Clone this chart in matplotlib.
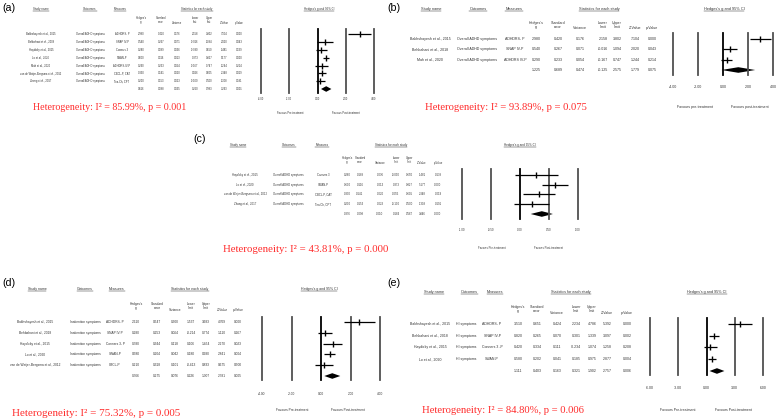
import matplotlib
matplotlib.use('Agg')
import matplotlib.pyplot as plt
from matplotlib.lines import Line2D

W, H = 779, 419

# ------------------------------------------------------------------ data
col_heads = ["Hedges's\ng", "Standard\nerror", "Variance", "Lower\nlimit",
             "Upper\nlimit", "Z-Value", "p-Value"]

# (a) overall ADHD symptoms, all studies
a_studies = ["Bakhshayesh et al., 2015", "Behbahani et al., 2018", "Haydicky et al., 2015",
             "Lo et al., 2020", "Mah et al., 2020", "van de Weijer-Bergsma et al., 2012",
             "Zhang et al., 2017"]
a_outcomes = ["Overall ADHD symptoms"] * 7
a_measures = ["ADHDRS- P", "SNAP IV-P", "Conners 3", "SWAN-P", "ADHDRS-IV-P",
              "CBCL-P, CAT", "Tea-Ch, CPT"]
a_g = [2.980, 0.540, 0.280, 0.600, 0.290, 0.330, 0.200]
a_se = [0.420, 0.267, 0.189, 0.116, 0.233, 0.141, 0.153]
a_var = [0.176, 0.071, 0.036, 0.013, 0.054, 0.020, 0.023]
a_lo = [2.158, -0.016, -0.090, 0.373, -0.167, 0.056, -0.100]
a_hi = [3.802, 1.094, 0.650, 0.827, 0.747, 0.605, 0.500]
a_z = [7.104, 2.020, 1.481, 5.177, 1.244, 2.348, 1.308]
a_p = [0.000, 0.043, 0.139, 0.000, 0.214, 0.019, 0.191]
a_sum = [0.616, 0.188, 0.035, 0.250, 0.983, 3.293, 0.001]
a_het = "Heterogeneity: I\u00b2 = 85.99%, p = 0.001"
a_ticks = [-4, -2, 0, 2, 4]

# (b)
b_studies = ["Bakhshayesh et al., 2015", "Behbahani et al., 2018", "Mah et al., 2020"]
b_outcomes = ["Overall ADHD symptoms"] * 3
b_measures = ["ADHDRS- P", "SNAP IV-P", "ADHDRS IV-P"]
b_g = [2.980, 0.540, 0.290]
b_se = [0.420, 0.267, 0.233]
b_var = [0.176, 0.071, 0.054]
b_lo = [2.158, -0.016, -0.167]
b_hi = [3.802, 1.094, 0.747]
b_z = [7.104, 2.020, 1.244]
b_p = [0.000, 0.043, 0.214]
b_sum = [1.225, 0.689, 0.474, -0.125, 2.575, 1.779, 0.075]
b_het = "Heterogeneity: I\u00b2 = 93.89%, p = 0.075"
b_ticks = [-4, -2, 0, 2, 4]

# (c)
c_studies = ["Haydicky et al., 2015", "Lo et al., 2020",
             "van de Weijer-Bergsma et al., 2012", "Zhang et al., 2017"]
c_outcomes = ["Overall ADHD symptoms"] * 4
c_measures = ["Conners 3", "SWAN-P", "CBCL-P, CAT", "Tea-Ch, CPT"]
c_g = [0.280, 0.600, 0.330, 0.200]
c_se = [0.189, 0.116, 0.141, 0.153]
c_var = [0.036, 0.013, 0.020, 0.023]
c_lo = [-0.090, 0.373, 0.055, -0.100]
c_hi = [0.650, 0.827, 0.605, 0.500]
c_z = [1.481, 5.177, 2.348, 1.308]
c_p = [0.139, 0.000, 0.019, 0.191]
c_sum = [0.376, 0.098, 0.010, 0.184, 0.567, 3.846, 0.000]
c_het = "Heterogeneity: I\u00b2 = 43.81%, p = 0.000"
c_ticks = [-1.0, -0.5, 0.0, 0.5, 1.0]

# (d) inattention
d_studies = ["Bakhshayesh et al., 2015", "Behbahani et al., 2018", "Haydicky et al., 2015",
             "Lo et al., 2020", "van de Weijer-Bergsma et al., 2012"]
d_outcomes = ["Inattention symptoms"] * 5
d_measures = ["ADHDRS- P", "SNAP IV-P", "Conners 3- P", "SWAN-P", "CBCL-P"]
d_g = [2.610, 0.280, 0.780, 0.580, 0.210]
d_se = [0.547, 0.253, 0.344, 0.204, 0.318]
d_var = [0.300, 0.064, 0.118, 0.042, 0.101]
d_lo = [1.537, -0.214, 0.106, 0.180, -0.413]
d_hi = [3.683, 0.774, 1.454, 0.980, 0.833]
d_z = [4.769, 1.110, 2.270, 2.841, 0.675]
d_p = [0.000, 0.267, 0.023, 0.004, 0.500]
d_sum = [0.766, 0.275, 0.076, 0.226, 1.307, 2.781, 0.005]
d_het = "Heterogeneity: I\u00b2 = 75.32%, p = 0.005"
d_ticks = [-4, -2, 0, 2, 4]

# (e) HI symptoms
e_studies = ["Bakhshayesh et al., 2015", "Behbahani et al., 2018",
             "Haydicky et al., 2015", "Lo et al., 2020"]
e_outcomes = ["HI symptoms"] * 4
e_measures = ["ADHDRS- P", "SNAP IV-P", "Conners 3 -P", "SWAN-P"]
e_g = [3.510, 0.820, 0.420, 0.580]
e_se = [0.651, 0.265, 0.334, 0.202]
e_var = [0.424, 0.070, 0.111, 0.041]
e_lo = [2.234, 0.301, -0.234, 0.185]
e_hi = [4.786, 1.339, 1.074, 0.975]
e_z = [5.392, 3.097, 1.258, 2.877]
e_p = [0.000, 0.002, 0.208, 0.004]
e_sum = [1.111, 0.403, 0.163, 0.321, 1.902, 2.757, 0.006]
e_het = "Heterogeneity: I\u00b2 = 84.80%, p = 0.006"
e_ticks = [-6, -3, 0, 3, 6]

# ------------------------------------------------------------------ layout (pixels)
panels = [
    dict(label="(a)", lab=(2, 8), hy=9, hx=[41, 90, 120, 197, 319],
         ch_y=(17, 23), cx=[141, 161, 177, 195, 209, 224, 239],
         row0=34, step=7.9, sum_y=89, nx=41, ox=90, mx=122, fs=1.9,
         fx=(261, 374), fy=(29, 93), tick_y=98, fav_y=113, fav_x=(290, 346),
         fav=("Favours Pre-treatment", "Favours Post-treatment"),
         het=(33, 108), het_w=153, ticks=a_ticks,
         d=(a_studies, a_outcomes, a_measures, a_g, a_se, a_var, a_lo, a_hi, a_z, a_p, a_sum, a_het)),
    dict(label="(b)", lab=(387, 8), hy=9, hx=[431, 478, 514, 599, 724],
         ch_y=(22, 28), cx=[536, 558, 580, 603, 617, 635, 652],
         row0=39, step=10.4, sum_y=70, nx=430, ox=477, mx=515, fs=2.6,
         fx=(673, 773), fy=(33, 75), tick_y=86, fav_y=107, fav_x=(695, 750),
         fav=("Favours pre-treatment", "Favours post-treatment"),
         het=(425, 108), het_w=162, ticks=b_ticks,
         d=(b_studies, b_outcomes, b_measures, b_g, b_se, b_var, b_lo, b_hi, b_z, b_p, b_sum, b_het)),
    dict(label="(c)", lab=(193, 139), hy=145, hx=[238, 289, 322, 391, 520],
         ch_y=(157, 163), cx=[347, 360, 380, 396, 409, 422, 438],
         row0=175, step=9.7, sum_y=214, nx=245, ox=288, mx=323, fs=1.95,
         fx=(462, 578), fy=(169, 219), tick_y=229, fav_y=248, fav_x=(492, 549),
         fav=("Favours Pre-treatment", "Favours Post-treatment"),
         het=(223, 249), het_w=164, ticks=c_ticks,
         d=(c_studies, c_outcomes, c_measures, c_g, c_se, c_var, c_lo, c_hi, c_z, c_p, c_sum, c_het)),
    dict(label="(d)", lab=(2, 283), hy=289, hx=[37, 85, 117, 190, 319],
         ch_y=(302, 310), cx=[136, 157, 175, 191, 206, 222, 238],
         row0=322, step=10.8, sum_y=376, nx=35, ox=85, mx=115, fs=2.3,
         fx=(262, 380), fy=(317, 380), tick_y=393, fav_y=410, fav_x=(292, 348),
         fav=("Favours Pre-treatment", "Favours Post-treatment"),
         het=(12, 413), het_w=168, ticks=d_ticks,
         d=(d_studies, d_outcomes, d_measures, d_g, d_se, d_var, d_lo, d_hi, d_z, d_p, d_sum, d_het)),
    dict(label="(e)", lab=(387, 283), hy=292, hx=[434, 469, 495, 571, 707],
         ch_y=(305, 313), cx=[518, 537, 557, 576, 592, 607, 627],
         row0=324, step=11.7, sum_y=371, nx=430, ox=466, mx=492, fs=2.5,
         fx=(650, 763), fy=(318, 375), tick_y=387, fav_y=410, fav_x=(678, 733),
         fav=("Favours Pre-treatment", "Favours Post-treatment"),
         het=(422, 410), het_w=163, ticks=e_ticks,
         d=(e_studies, e_outcomes, e_measures, e_g, e_se, e_var, e_lo, e_hi, e_z, e_p, e_sum, e_het)),
]

SANS = ['Liberation Sans Narrow', 'Liberation Sans', 'DejaVu Sans']
SERIF = ['Liberation Serif', 'DejaVu Serif']
TXT = '#333333'

fig = plt.figure(figsize=(W / 100, H / 100), dpi=100)
fig.patch.set_facecolor('white')
renderer = fig.canvas.get_renderer()


def ftext(x, y, s, **kw):
    kw.setdefault('family', SANS)
    kw.setdefault('color', TXT)
    return fig.text(x / W, 1 - y / H, s, **kw)


underlined = []
for P in panels:
    studies, outcomes, measures, g, se, var, lo, hi, z, p, sm, het = P['d']
    fs = P['fs']
    ftext(P['lab'][0], P['lab'][1], P['label'], fontsize=7.7, color='black',
          family=['Liberation Sans', 'DejaVu Sans'], ha='left', va='center')
    for x, s in zip(P['hx'], ["Study name", "Outcomes", "Measures",
                              "Statistics for each study", "Hedges's g and 95% CI"]):
        t = ftext(x, P['hy'], s, fontsize=fs + 0.2, ha='center', va='center')
        underlined.append(t)
    y1, y2 = P['ch_y']
    for x, s in zip(P['cx'], col_heads):
        if '\n' in s:
            ftext(x, (y1 + y2) / 2, s, fontsize=fs, ha='center', va='center', linespacing=1.3)
        else:
            ftext(x, y2, s, fontsize=fs, ha='center', va='center')
    rows = [P['row0'] + i * P['step'] for i in range(len(studies))]
    for i, y in enumerate(rows):
        ftext(P['nx'], y, studies[i], fontsize=fs, ha='center', va='center')
        ftext(P['ox'], y, outcomes[i], fontsize=fs, ha='center', va='center')
        ftext(P['mx'], y, measures[i], fontsize=fs, ha='center', va='center')
        vals = [g[i], se[i], var[i], lo[i], hi[i], z[i], p[i]]
        for x, v in zip(P['cx'], vals):
            ftext(x, y, f"{v:.3f}", fontsize=fs, ha='center', va='center')
    for x, v in zip(P['cx'], sm):
        ftext(x, P['sum_y'], f"{v:.3f}", fontsize=fs, ha='center', va='center')

    # heterogeneity annotation, sized to the reference width
    ht = ftext(P['het'][0], P['het'][1], het, fontsize=10, color='#ff2b2b',
               family=SERIF, ha='left', va='center')
    wpx = ht.get_window_extent(renderer).width
    ht.set_fontsize(10 * P['het_w'] / wpx)

    # forest plot axes
    xl, xr = P['fx']
    yt, yb = P['fy']
    ax = fig.add_axes([xl / W, 1 - yb / H, (xr - xl) / W, (yb - yt) / H])
    ticks = P['ticks']
    ax.set_xlim(ticks[0], ticks[-1])
    ax.set_ylim(yb, yt)
    for s in ax.spines.values():
        s.set_visible(False)
    ax.set_yticks([])
    ax.set_xticks(ticks)
    ax.set_xticklabels([f"{t:.2f}" for t in ticks], family=SANS, fontsize=fs, color=TXT)
    ax.tick_params(axis='x', length=0, pad=(P['tick_y'] - yb - 1.5) * 0.72)
    ax.patch.set_alpha(0)
    for t in ticks:
        ax.axvline(t, color='black' if t == 0 else '#505050', lw=1.3, clip_on=False)
    ax.hlines(rows, lo, hi, color='black', lw=0.9)
    ax.plot(g, rows, ls='none', marker='|', ms=5, mew=1.0, color='black')
    ys = P['sum_y']
    h = 2.8
    ax.fill([sm[3], sm[0], sm[4], sm[0]], [ys, ys - h, ys, ys + h], color='black', lw=0)

    ftext(P['fav_x'][0], P['fav_y'], P['fav'][0], fontsize=fs, ha='center', va='center')
    ftext(P['fav_x'][1], P['fav_y'], P['fav'][1], fontsize=fs, ha='center', va='center')

# underline the header texts
fig.canvas.draw()
r = fig.canvas.get_renderer()
for t in underlined:
    bb = t.get_window_extent(r)
    yline = bb.y0 + 0.2
    fig.add_artist(Line2D([bb.x0 / W, bb.x1 / W], [yline / H, yline / H],
                          transform=fig.transFigure, lw=0.35, color=TXT))

fig.savefig('out.png', dpi=100, facecolor='white')
